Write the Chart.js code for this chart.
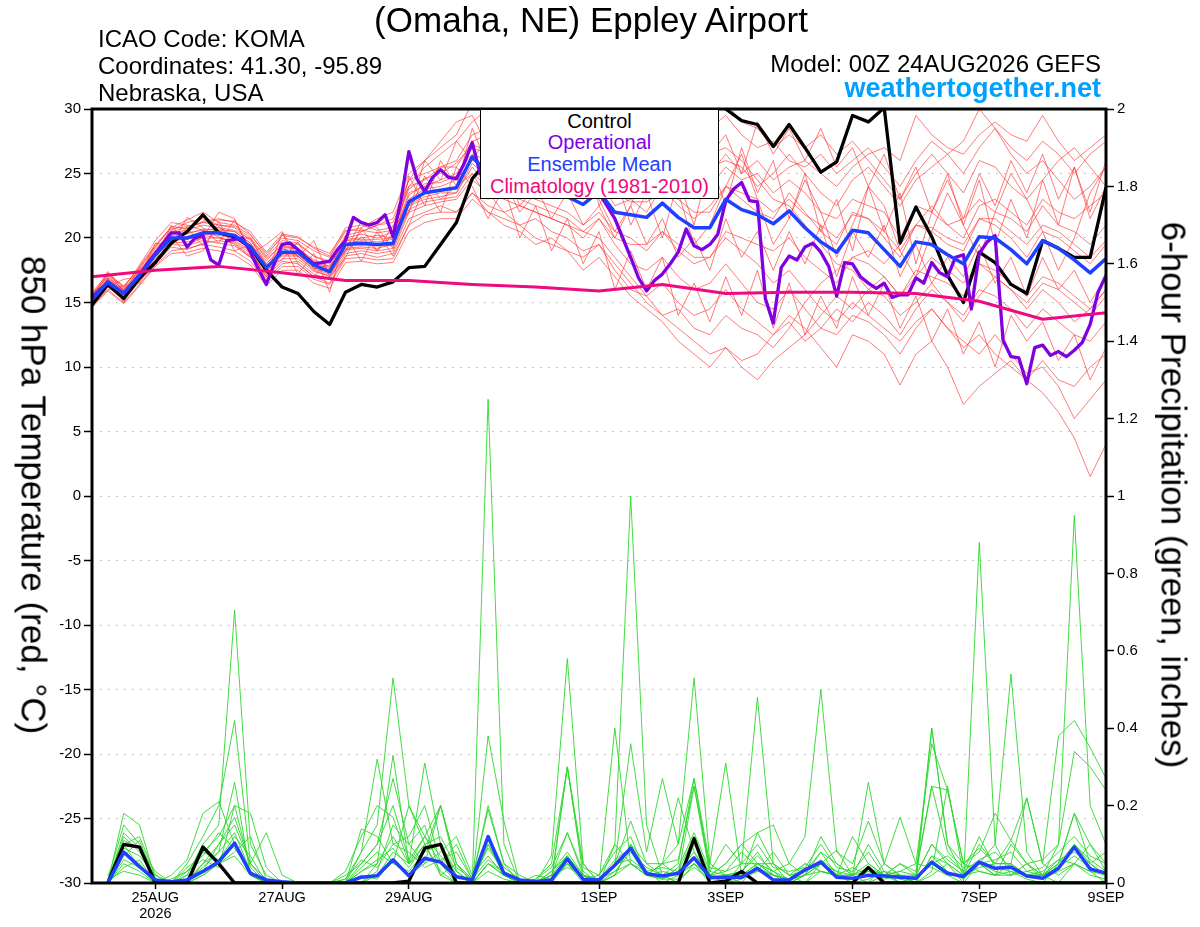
<!DOCTYPE html>
<html><head><meta charset="utf-8">
<script src="https://cdn.jsdelivr.net/npm/chart.js@4.4.1/dist/chart.umd.min.js"></script>
<style>
html,body{margin:0;padding:0;background:#fff;}
#wrap{position:relative;width:1200px;height:927px;overflow:hidden;font-family:"Liberation Sans",Arial,Helvetica,sans-serif;}
#c{position:absolute;left:0;top:0;}
.t{position:absolute;white-space:nowrap;color:#000;line-height:1;}
#legend{position:absolute;left:480px;top:109px;width:239px;height:90px;box-sizing:border-box;border:1.5px solid #000;background:#fff;text-align:center;font-size:20px;line-height:21.7px;padding-top:0.5px;}
.rot{position:absolute;white-space:nowrap;font-size:35px;line-height:1;transform:translate(-50%,-50%) rotate(90deg);}
</style></head>
<body>
<div id="wrap">
<canvas id="c" width="1200" height="927"></canvas>
<div class="t" style="left:0;width:1182px;text-align:center;top:2px;font-size:35px;">(Omaha, NE) Eppley Airport</div>
<div class="t" style="left:98px;top:27px;font-size:24px;">ICAO Code: KOMA</div>
<div class="t" style="left:98px;top:54px;font-size:24px;">Coordinates: 41.30, -95.89</div>
<div class="t" style="left:98px;top:81px;font-size:24px;">Nebraska, USA</div>
<div class="t" style="right:99px;top:52px;font-size:24px;">Model: 00Z 24AUG2026 GEFS</div>
<div class="t" style="right:99px;top:75px;font-size:27px;font-weight:bold;color:#00a0ff;">weathertogether.net</div>
<div class="rot" style="left:34px;top:495px;">850 hPa Temperature (red, °C)</div>
<div class="rot" style="left:1174px;top:495px;">6-hour Precipitation (green, inches)</div>
<div id="legend">
<div style="color:#000">Control</div>
<div style="color:#8000e0">Operational</div>
<div style="color:#2040ff">Ensemble Mean</div>
<div style="color:#ee0a80">Climatology (1981-2010)</div>
</div>
</div>
<script>
// ---- time axis ----
const STEP_ENS = 6;    // hours between ensemble points
const STEP_OPER = 3;   // hours between operational points
const STEP_CLIM = 24;  // hours between climatology points
const tickHours = [24, 72, 120, 192, 240, 288, 336, 384];
const tickLabels = [['25AUG','2026'], '27AUG', '29AUG', '1SEP', '3SEP', '5SEP', '7SEP', '9SEP'];

// ---- 850 hPa temperature (°C) ----
const controlTemp = [14.8,16.4,15.3,16.9,18.1, 19.6,20.5,21.8,20.4,20.1, 19.3,17.5,16.2,15.7,14.3, 13.3,15.8,16.4,16.2,16.6,
 17.7,17.8,19.5,21.2,24.6, 26.0,27.5,28.5,29.5,30.5, 31.0,30.0,29.0,28.0,29.0, 30.0,29.0,28.5,30.0,31.0,
 30.0,29.1,28.8,27.1,28.8, 27.0,25.1,25.9,29.5,29.0, 30.1,19.6,22.4,20.1,17.1, 15.0,18.9,18.1,16.4,15.7, 19.8,19.2,18.5,18.5,23.9];
const meanTemp = [15.2,16.6,15.7,17.1,18.7, 20.0,20.0,20.4,20.4,20.2, 19.3,17.7,18.9,18.9,17.9, 17.4,19.5,19.6,19.5,19.6,
 22.8,23.5,23.7,23.9,26.3, 25.0,24.5,24.5,24.0,23.8, 23.2,22.6,23.6,22.0,21.8, 21.6,22.7,21.6,20.8,20.8,
 23.0,22.2,21.8,21.1,22.1, 20.8,19.7,18.9,20.6,20.4, 19.1,17.8,19.7,19.5,18.7, 18.0,20.1,20.0,19.1,18.0, 19.8,19.2,18.3,17.3,18.4];
const operTemp = [15.4,16.0,16.5,16.1,15.7,16.4,17.1,18.0,18.8,19.6,
 20.4,20.4,19.3,20.0,20.2,18.3,17.9,19.8,19.9,20.0,
 18.9,17.6,16.4,18.0,19.5,19.6,19.1,18.5,18.0,18.1,
 18.2,19.1,19.8,21.6,21.2,21.0,21.2,21.8,20.1,22.9,
 26.7,24.6,23.6,24.7,25.3,24.7,24.6,25.8,27.4,25.0,
 24.5,25.0,26.0,25.5,26.5,27.0,26.0,25.5,26.0,25.0,
 25.5,24.5,25.0,24.0,23.5,22.5,21.5,20.0,18.5,16.9,
 15.9,16.7,17.2,18.0,18.9,20.7,19.4,19.1,19.5,20.3,
 22.9,23.8,24.3,22.9,22.8,15.3,13.4,17.7,18.6,18.3,
 19.3,19.6,18.9,17.8,15.5,18.1,18.0,17.0,16.5,16.1,
 16.5,15.4,15.6,15.6,16.9,16.5,18.1,17.3,17.0,18.5,
 18.7,14.5,18.8,19.7,20.2,12.1,10.8,10.7,8.7,11.5,
 11.7,10.9,11.2,10.8,11.3,11.9,13.3,15.8,17.1];
const climTemp = [17.0,17.5,17.8,17.3,16.7,16.7,16.4,16.2,15.9,16.4,15.7,15.8,15.8,15.7,15.1,13.7,14.2];

// ensemble members, temperature
const tempM01 = [15.6,17.0,16.0,17.4,19.0, 20.6,21.2,21.5,21.0,20.8, 19.8,18.2,19.6,19.5,18.6, 18.0,20.2,20.5,21.0,21.2, 24.0,25.5,26.5,27.5,29.0, 30.0,28.5,29.0,27.5,28.0, 29.5,28.0,29.0,28.5,27.5, 26.5,27.0,28.0,27.0,28.5, 29.5,28.0,27.0,27.5,26.0, 25.5,26.5,25.0,26.0,27.0, 25.5,24.0,26.0,27.5,26.5, 25.0,27.0,28.5,27.0,26.0, 27.5,26.5,25.0,26.5,27.5];
const tempM02 = [14.8,16.3,15.3,16.7,18.3, 19.5,19.4,19.8,19.6,19.4, 18.5,17.0,18.2,18.0,17.0, 16.5,18.6,18.8,18.5,18.8, 21.5,22.0,22.5,22.0,23.5, 22.0,21.0,20.5,19.5,20.0, 19.0,17.5,18.5,17.0,15.5, 14.5,13.5,12.0,11.0,10.0, 11.5,10.5,11.0,12.5,13.5, 12.0,13.0,14.5,13.5,15.0, 14.0,12.5,14.5,16.0,15.0, 13.5,15.5,17.0,16.0,14.5, 16.0,15.0,13.5,14.5,16.0];
const tempM03 = [15.4,16.8,15.9,17.3,19.2, 20.4,20.6,21.0,20.8,20.6, 19.9,18.4,19.4,19.2,18.3, 17.8,19.9,20.0,20.2,20.0, 23.5,24.0,24.5,25.0,26.5, 26.0,25.0,26.5,24.5,25.0, 24.0,23.0,24.5,22.5,23.0, 22.0,24.0,22.5,21.5,22.5, 24.0,23.0,22.0,21.5,23.5, 22.0,20.5,19.5,22.0,21.5, 20.0,18.5,21.0,20.5,19.5, 19.0,21.5,21.0,20.0,18.5, 20.5,20.0,19.0,18.0,19.5];
const tempM04 = [15.1,16.5,15.6,17.8,19.5, 20.8,21.4,22.0,21.2,21.0, 20.2,18.8,20.0,19.8,19.0, 18.5,20.5,20.8,21.5,22.0, 25.0,26.0,27.0,28.0,30.5, 31.0,29.5,30.0,28.0,27.5, 29.0,27.0,30.0,28.0,26.5, 27.5,26.0,28.5,27.5,29.5, 30.5,29.0,28.5,27.0,28.0, 27.0,28.0,26.5,27.5,26.0, 24.5,23.0,25.0,26.5,25.0, 23.5,26.0,25.5,24.0,23.0, 24.5,26.0,27.0,25.5,24.0];
const tempM05 = [15.0,16.4,15.5,16.9,18.6, 19.8,19.9,20.2,20.0,19.8, 19.0,17.4,18.6,18.6,17.6, 17.2,19.2,19.3,19.2,19.5, 22.5,23.0,23.2,23.5,25.5, 24.0,23.0,22.5,22.0,21.5, 21.0,20.0,21.5,19.5,18.0, 17.5,18.5,17.0,16.0,16.5, 18.0,16.5,15.0,14.5,16.0, 14.5,13.0,12.5,14.0,13.5, 12.5,11.0,13.0,14.5,13.0, 11.5,12.5,11.0,10.0,9.0, 8.0,6.5,4.5,1.5,4.0];
const tempM06 = [15.8,17.2,16.3,17.6,19.3, 20.9,20.7,21.3,21.5,21.2, 20.5,18.9,20.3,20.1,19.2, 18.6,20.8,21.0,20.6,20.8, 24.5,25.0,25.5,25.5,27.5, 28.0,27.5,26.0,26.5,25.5, 26.0,25.0,26.0,24.5,24.0, 24.5,25.5,24.0,23.0,24.0, 25.5,24.5,25.0,23.5,24.5, 23.5,22.0,21.5,23.0,22.5, 22.0,20.0,22.5,22.0,21.0, 21.5,23.0,22.0,21.5,20.5, 22.5,21.0,20.5,19.5,21.0];
const tempM07 = [14.9,16.2,15.2,16.6,18.0, 19.3,19.1,19.6,19.8,19.6, 18.6,16.8,18.0,18.2,17.2, 16.8,18.8,19.0,18.8,19.0, 22.0,22.5,22.8,23.0,24.5, 23.5,22.0,21.0,21.5,20.5, 20.0,19.0,19.5,18.0,16.5, 15.0,14.0,14.5,13.0,12.5, 14.0,13.0,12.5,11.5,13.0, 15.0,16.5,17.5,18.5,19.0, 18.0,19.5,21.0,22.5,21.0, 20.0,22.5,23.0,22.0,21.0, 23.0,22.0,21.5,22.5,23.5];
const tempM08 = [15.3,16.7,15.8,17.2,18.9, 20.2,20.3,20.7,20.6,20.5, 19.6,18.0,19.1,19.2,18.1, 17.6,19.6,19.8,19.7,19.9, 23.0,23.8,24.0,24.5,26.0, 25.5,26.0,25.0,25.5,24.5, 25.0,24.0,25.5,24.0,23.5, 23.0,24.5,25.5,24.0,25.0, 26.5,25.0,26.0,24.5,25.5, 26.0,25.0,24.0,25.5,26.5, 27.0,26.0,29.5,28.0,27.0, 26.5,28.0,29.0,28.0,27.5, 29.5,27.5,26.0,27.0,28.0];
const tempM09 = [15.5,17.4,16.1,17.9,19.8, 21.2,21.0,20.6,20.1,19.5, 18.5,17.6,19.2,18.6,17.5, 17.0,19.0,20.5,21.0,21.5, 24.5,26.0,27.5,29.0,29.5, 27.0,24.5,22.0,23.5,26.0, 28.0,26.0,23.0,20.5,22.5, 25.5,27.5,23.5,19.5,21.0, 24.0,26.5,23.0,19.5,21.5, 24.5,22.0,18.5,21.0,24.0, 22.5,19.0,17.0,20.5,23.5, 21.0,18.5,22.0,25.0,23.0, 20.5,17.5,20.0,23.5,25.5];
const tempM10 = [15.0,16.5,15.4,16.8,18.4, 19.6,19.7,20.0,20.0,19.7, 18.8,17.2,18.4,18.4,17.4, 17.1,19.1,19.2,19.0,19.2, 22.2,22.8,23.0,23.2,25.0, 24.0,24.0,23.5,23.0,22.5, 22.0,21.0,22.0,20.5,20.0, 19.0,20.5,19.0,18.0,18.5, 20.0,19.0,18.0,16.5,17.5, 16.0,14.5,13.5,15.0,14.0, 13.0,12.0,13.5,14.5,13.0, 12.0,11.0,12.5,11.0,9.5, 10.0,8.5,6.0,7.5,9.0];
const tempM11 = [14.7,16.0,15.0,16.4,17.9, 19.0,19.2,19.5,19.3,19.0, 18.2,16.6,17.8,17.8,16.8, 16.4,18.4,18.5,18.3,18.4, 21.0,21.8,22.0,22.0,23.5, 22.5,22.0,22.5,22.0,21.5, 21.0,20.5,21.5,20.0,19.5, 19.5,20.5,19.5,18.5,18.5, 20.5,20.0,19.5,19.0,20.0, 18.5,17.5,16.5,18.5,18.0, 17.0,15.5,17.5,17.0,16.5, 15.5,18.0,17.5,16.5,15.5, 17.0,16.5,15.5,14.5,16.0];
const tempM12 = [15.5,16.9,16.0,17.5,19.0, 20.5,20.8,21.2,21.0,20.9, 20.0,18.5,19.8,19.6,18.6, 18.2,20.0,20.3,20.0,20.5, 24.0,24.5,25.5,26.0,28.0, 28.5,27.0,28.0,27.5,26.5, 27.5,26.5,27.5,26.0,25.5, 26.0,27.0,26.5,25.0,26.5, 27.0,26.0,24.5,23.0,22.5, 21.0,19.5,18.0,17.5,16.0, 15.5,14.0,15.0,16.5,15.0, 14.0,16.0,15.5,14.5,13.0, 14.5,13.5,12.5,12.0,13.5];
const tempM13 = [15.2,16.6,15.6,17.0,18.6, 19.9,20.1,20.3,20.2,20.0, 19.1,17.5,18.7,18.7,17.7, 17.3,19.4,19.4,19.4,19.4, 22.6,23.2,23.5,23.5,25.8, 24.5,23.5,23.0,22.5,22.0, 21.5,20.5,20.0,18.5,17.0, 15.5,14.0,13.0,12.0,11.0, 11.5,10.0,9.0,10.5,11.5, 12.5,14.0,15.5,14.5,16.0, 17.0,15.5,17.0,18.5,17.5, 16.5,18.0,17.0,16.0,15.0, 16.5,16.0,15.0,14.0,15.5];
const tempM14 = [15.4,16.8,15.9,17.2,18.9, 20.3,20.4,20.6,20.7,20.5, 19.6,18.0,19.3,19.2,18.2, 17.7,19.8,19.9,19.9,20.0, 23.3,24.2,24.3,24.8,27.0, 26.5,25.5,25.5,25.0,24.5, 24.5,24.0,24.8,23.5,22.8, 22.8,23.5,23.0,22.0,22.0, 24.0,23.5,23.0,22.0,23.0, 21.8,21.0,20.0,21.8,21.5, 20.5,19.0,21.0,20.8,20.0, 19.5,21.5,21.5,20.5,19.5, 21.0,20.5,19.5,18.5,19.8];
const tempM15 = [15.6,17.1,16.2,17.7,19.4, 20.7,20.9,21.2,21.4,21.3, 20.3,18.6,20.2,20.0,19.3, 18.8,20.6,20.6,20.4,20.6, 23.8,24.6,25.0,25.8,27.2, 26.8,26.0,27.5,26.0,25.0, 26.5,25.5,27.0,25.5,24.5, 25.0,26.0,25.0,24.0,25.5, 26.0,25.5,24.0,25.0,26.5, 25.0,23.5,22.5,24.5,25.5, 24.0,22.5,24.5,25.5,26.5, 27.5,30.0,28.5,26.5,25.0, 26.0,24.5,23.0,24.0,25.5];
const tempM16 = [14.6,15.9,14.9,16.3,17.8, 18.8,18.9,19.2,19.0,18.7, 17.9,16.3,17.5,17.5,16.5, 16.1,18.1,18.2,18.0,18.1, 20.5,21.2,21.5,21.5,23.0, 22.0,21.5,21.0,20.0,19.5, 19.0,18.5,19.5,17.5,16.0, 15.5,16.5,15.0,14.0,14.5, 16.0,14.5,13.5,12.5,14.0, 13.0,11.5,10.0,12.5,12.0, 11.0,8.6,11.0,12.0,10.0, 7.1,8.5,9.5,10.5,9.0, 10.5,9.0,8.5,10.0,11.0];
const tempM17 = [15.9,16.2,16.8,17.0,18.2, 21.0,19.5,20.0,22.0,21.5, 18.8,19.5,20.5,18.5,19.8, 17.0,18.5,20.8,19.0,21.0, 22.0,26.0,24.5,27.5,26.0, 28.0,25.5,27.0,23.0,26.5, 24.0,27.5,22.5,25.0,21.0, 23.5,20.0,24.5,21.0,26.0, 22.5,27.0,23.5,26.0,21.5, 25.0,20.5,23.0,19.0,24.0, 20.5,23.5,18.0,22.0,25.0, 21.0,24.5,19.5,23.0,20.0, 24.5,21.0,25.5,22.0,26.0];
const tempM18 = [14.6,16.9,15.0,17.6,18.0, 20.2,18.6,19.0,21.3,19.0, 19.5,16.5,19.6,17.2,18.8, 15.8,20.2,18.2,20.5,18.6, 21.0,24.0,22.0,25.5,24.0, 21.5,24.0,20.0,22.5,19.0, 21.5,18.0,20.5,16.0,19.0, 16.0,18.5,14.0,16.5,13.5, 17.0,14.0,17.5,13.0,16.5, 12.5,15.5,13.0,17.0,14.0, 16.5,13.0,15.5,12.0,14.5, 11.0,13.5,10.0,14.0,12.0, 13.5,10.5,12.5,9.0,11.5];
const tempM19 = [15.2,17.3,15.9,17.0,19.6, 19.4,21.6,20.8,19.6,21.4, 19.0,17.0,20.4,18.0,17.0, 18.3,19.0,21.3,20.8,19.2, 24.8,22.5,26.0,24.0,28.5, 25.5,27.5,24.5,28.5,26.0, 27.0,24.5,28.0,26.5,28.5, 25.5,28.0,26.0,29.0,26.5, 28.0,25.0,29.0,26.5,28.5, 26.0,28.5,25.5,27.0,24.0, 26.5,23.0,25.5,22.0,24.5, 21.5,25.0,22.5,26.0,23.5, 26.5,23.0,25.5,21.5,24.0];
const tempM20 = [15.0,16.0,16.3,16.5,19.0, 19.8,20.8,19.4,20.9,19.9, 20.0,17.9,18.3,19.7,17.6, 17.9,18.9,20.1,19.0,20.3, 22.0,24.8,23.0,24.0,25.0, 23.0,25.5,22.5,24.0,21.5, 23.5,21.0,22.5,20.0,22.5, 19.5,21.5,18.5,20.0,17.5, 21.5,18.5,20.5,17.5,20.5, 18.0,21.0,17.0,20.5,18.5, 21.0,17.0,19.5,16.5,18.5, 17.0,19.5,16.5,18.5,15.5, 18.5,16.0,17.5,15.0,17.0];

// ---- 6-hour precipitation (inches) ----
const controlPrecip = [null,0,0.10,0.093,0, 0,0,0.093,0.05,0, 0,0,0,0,0, 0,0,0,0,0, 0.005,0.09,0.10,0,0, 0,0,0,0,0, 0,0,0,0,0, 0,0,0,0.115,0, 0.005,0.03,0,0,0, 0,0,0,0,0.04, 0,0,0,0,0, 0,0,0,0,0, 0,0,0,0,0];
const meanPrecip = [null,0,0.08,0.042,0.008, 0.003,0.008,0.03,0.055,0.103, 0.025,0.008,0.003,0,0, 0,0,0.015,0.019,0.06, 0.019,0.064,0.054,0.016,0.008, 0.12,0.025,0.008,0.004,0.008, 0.062,0.01,0.008,0.046,0.09, 0.024,0.018,0.025,0.065,0.015, 0.015,0.015,0.038,0.008,0.008, 0.034,0.054,0.015,0.012,0.02, 0.018,0.015,0.012,0.054,0.025, 0.017,0.054,0.038,0.041,0.018, 0.012,0.038,0.093,0.036,0.026];
const precipM01 = [null,0,0.08,0.05,0, 0,0,0.02,0.05,0.1, 0.02,0,0,0,0, 0,0,0.03,0.05,0.12, 0.05,0.08,0.1,0.03,0, 1.25,0.1,0,0,0.02, 0.05,0,0,0.02,0.1, 0.03,0,0.02,0.05,0, 0,0.02,0.05,0.02,0, 0,0.03,0.02,0,0.01, 0.03,0,0,0.02,0.05, 0.02,0.05,0.02,0.03,0.01, 0,0.05,0.1,0.05,0.02];
const precipM02 = [null,0,0.12,0.08,0.01, 0,0.02,0.1,0.15,0.705, 0.1,0.02,0,0,0, 0,0,0,0.02,0.08, 0.05,0.1,0.02,0,0, 0.05,0.02,0,0,0.03, 0.08,0.02,0,0.1,1.0, 0.15,0.02,0,0.05,0.02, 0,0.01,0.03,0.08,0.02, 0,0.05,0.03,0,0, 0.02,0,0.01,0.05,0.02, 0,0.88,0.1,0.02,0.05, 0.02,0,0.05,0.03,0];
const precipM03 = [null,0.01,0.15,0.1,0, 0,0.05,0.12,0.2,0.42, 0.05,0,0,0,0, 0,0,0.08,0.15,0.53, 0.2,0.1,0.03,0,0, 0.1,0.02,0,0.01,0.05, 0.3,0.05,0,0.02,0.1, 0.05,0.05,0.1,0.53,0.05, 0.02,0,0.05,0.03,0, 0.02,0.08,0.05,0.02,0.1, 0.03,0,0.02,0.1,0.05, 0,0.05,0.1,0.54,0.08, 0.02,0.05,0.18,0.1,0.05];
const precipM04 = [null,0,0.1,0.12,0.02, 0,0,0.05,0.08,0.26, 0.02,0,0,0,0, 0,0,0,0.05,0.33, 0.05,0.31,0.1,0.02,0, 0.05,0.03,0,0,0.07, 0.58,0.05,0,0.05,0.16, 0.05,0.02,0,0.1,0.02, 0,0.05,0.48,0.05,0, 0.02,0.12,0.05,0.02,0, 0.05,0.02,0,0.07,0.05, 0.02,0.05,0.02,0.1,0.05, 0.06,0.1,0.95,0.2,0.1];
const precipM05 = [null,0,0.06,0.04,0, 0.01,0.03,0.08,0.12,0.2, 0.18,0.04,0,0,0, 0,0.02,0.05,0.1,0.27, 0.1,0.05,0.2,0.05,0.01, 0.2,0.05,0.02,0,0.02, 0.13,0.02,0,0.4,0.05, 0.02,0.05,0.22,0.08,0.02, 0.05,0.1,0.05,0.03,0.05, 0.12,0.5,0.08,0.05,0.16, 0.05,0.02,0.02,0.4,0.1, 0.02,0.1,0.05,0.05,0.22, 0.05,0.02,0.05,0.03,0.02];
const precipM06 = [null,0,0.18,0.15,0.01, 0,0.02,0.03,0.1,0.15, 0.05,0.13,0.02,0,0, 0,0,0.14,0.12,0.05, 0.2,0.12,0.05,0,0, 0.38,0.16,0,0,0, 0.3,0.02,0,0.05,0.36, 0.08,0.27,0.1,0.27,0.05, 0.31,0.02,0.13,0.05,0.02, 0.03,0.05,0.085,0.02,0.26, 0.05,0.17,0.05,0.36,0.24, 0.05,0.08,0.18,0.11,0.22, 0.05,0.38,0.42,0.35,0.27];
const precipM07 = [null,0,0.05,0.03,0, 0.02,0.06,0.18,0.21,0.1, 0.03,0,0,0,0, 0,0.01,0.08,0.32,0.1, 0.12,0.2,0.05,0.1,0.01, 0.19,0.05,0,0.02,0.01, 0.05,0.02,0.01,0.03,0.08, 0.02,0.05,0.02,0.25,0.02, 0.05,0.1,0.13,0.15,0.05, 0.02,0.05,0.02,0.12,0.05, 0.02,0.05,0.02,0.25,0.24, 0.05,0.09,0.05,0.11,0.05, 0.02,0.05,0.18,0.05,0.08];
const precipM08 = [null,0.01,0.03,0.02,0, 0,0,0.02,0.05,0.07, 0.02,0,0,0,0, 0,0,0.02,0.01,0.06, 0.02,0.05,0.08,0.12,0.02, 0.07,0.02,0,0,0.01, 0.07,0.01,0.02,0.1,0.05, 0.02,0.03,0.02,0.05,0.01, 0.02,0.02,0.05,0.02,0.01, 0.02,0.05,0.02,0.01,0.03, 0.02,0.01,0,0.07,0.03, 0.01,0.05,0.03,0.02,0.05, 0.01,0.03,0.05,0.02,0.01];
const precipM09 = [null,0,0.09,0.07,0.02, 0,0.01,0.05,0.1,0.17, 0.05,0.01,0,0,0, 0,0.03,0.12,0.2,0.17, 0.05,0.12,0.07,0.02,0, 0.12,0.04,0.01,0,0.03, 0.07,0.01,0.01,0.05,0.08, 0.04,0.02,0.05,0.27,0.03, 0.1,0.05,0.05,0.05,0.02, 0.05,0.03,0.02,0.02,0.05, 0.02,0.03,0.05,0.04,0.02, 0.02,0.04,0.05,0.05,0.02, 0.02,0.04,0.07,0.04,0.02];
const precipM10 = [null,0,0.07,0.11,0.01, 0,0,0.08,0.06,0.12, 0.07,0,0,0,0, 0,0,0,0.03,0.15, 0.1,0.15,0.02,0.05,0, 0.05,0.02,0,0.01,0.04, 0.13,0.03,0,0.05,0.06, 0.03,0.01,0.03,0.08,0.01, 0.02,0.03,0.08,0.02,0.01, 0.03,0.08,0.02,0.02,0.03, 0.01,0.02,0,0.4,0.1, 0.05,0.03,0.02,0.02,0.03, 0.02,0.06,0.05,0.1,0.03];
const precipM11 = [null,0,0.04,0.06,0, 0,0.01,0.03,0.05,0.08, 0.12,0.01,0,0,0, 0,0,0.04,0.08,0.05, 0.03,0.08,0.2,0.03,0, 0.03,0.01,0,0,0.02, 0.04,0.02,0,0.03,0.05, 0.02,0.01,0.01,0.04,0.01, 0.01,0.02,0.03,0.02,0.01, 0.02,0.03,0.02,0.01,0.02, 0.03,0.02,0,0.03,0.25, 0.02,0.03,0.02,0.05,0.02, 0.02,0.1,0.34,0.3,0.24];
const precipM12 = [null,0,0.11,0.09,0.03, 0,0.04,0.07,0.13,0.09, 0.03,0,0,0,0, 0,0,0.05,0.1,0.2, 0.06,0.12,0.2,0.05,0, 0.1,0.03,0,0,0.01, 0.3,0.04,0.02,0.08,0.12, 0.02,0.05,0.06,0.25,0.04, 0.03,0.05,0.1,0.04,0.03, 0.04,0.1,0.04,0.03,0.08, 0.02,0.05,0.03,0.25,0.08, 0.04,0.05,0.06,0.08,0.03, 0.04,0.08,0.12,0.07,0.05];
const precipM13 = [null,0.02,0.1,0.04,0, 0,0.01,0.04,0.08,0.13, 0.03,0,0,0,0, 0,0.01,0.06,0.04,0.1, 0.08,0.04,0.06,0.08,0.01, 0.06,0.03,0.01,0,0, 0.05,0.01,0,0.02,0.05, 0.03,0.04,0.03,0.12,0.02, 0.03,0.08,0.04,0.02,0.01, 0.05,0.03,0.02,0.04,0.02, 0.02,0.02,0.01,0.05,0.07, 0.03,0.06,0.08,0.04,0.02, 0.03,0.06,0.08,0.05,0.02];
const precipM14 = [null,0,0.13,0.09,0.01, 0,0.03,0.06,0.04,0.2, 0.04,0,0,0,0, 0,0,0.03,0.06,0.09, 0.04,0.1,0.12,0.04,0.01, 0.09,0.03,0,0,0.02, 0.07,0.02,0.01,0.06,0.09, 0.02,0.01,0.04,0.13,0.03, 0.02,0.03,0.07,0.03,0.01, 0.03,0.06,0.03,0.02,0.04, 0.02,0.03,0.02,0.1,0.06, 0.03,0.12,0.04,0.03,0.02, 0.02,0.04,0.1,0.06,0.03];

const tempMembers = [tempM01,tempM02,tempM03,tempM04,tempM05,tempM06,tempM07,tempM08,tempM09,tempM10,tempM11,tempM12,tempM13,tempM14,tempM15,tempM16,tempM17,tempM18,tempM19,tempM20];
const precipMembers = [precipM01,precipM02,precipM03,precipM04,precipM05,precipM06,precipM07,precipM08,precipM09,precipM10,precipM11,precipM12,precipM13,precipM14];

// ---- build chart ----
const FONT = "'Liberation Sans', Arial, Helvetica, sans-serif";
Chart.defaults.font.family = FONT;
Chart.defaults.color = '#000';

function pts(arr, step) {
  const out = [];
  arr.forEach((v, i) => { if (v !== null && v !== undefined) out.push({x: i * step, y: v}); });
  return out;
}
function line(data, axis, color, width, order) {
  return {data, yAxisID: axis, borderColor: color, borderWidth: width, pointRadius: 0,
          fill: false, tension: 0, order, borderJoinStyle: 'round', borderCapStyle: 'round'};
}

const datasets = [];
datasets.push(line(pts(climTemp, STEP_CLIM), 'y', '#ee0a80', 3, 1));
datasets.push(line(pts(meanTemp, STEP_ENS), 'y', '#2040ff', 3.5, 2));
datasets.push(line(pts(operTemp, STEP_OPER), 'y', '#8000e0', 3.3, 3));
datasets.push(line(pts(controlTemp, STEP_ENS), 'y', '#000000', 3.3, 4));
datasets.push(line(pts(meanPrecip, STEP_ENS), 'y2', '#2040ff', 3.5, 5));
datasets.push(line(pts(controlPrecip, STEP_ENS), 'y2', '#000000', 3.3, 6));
tempMembers.forEach(m => datasets.push(line(pts(m, STEP_ENS), 'y', 'rgba(255,45,45,0.7)', 0.9, 10)));
precipMembers.forEach(m => datasets.push(line(pts(m, STEP_ENS), 'y2', 'rgb(45,215,45)', 0.9, 11)));

const framePlugin = {
  id: 'frame',
  afterDatasetsDraw(chart) {
    const {ctx, chartArea: a} = chart;
    ctx.save();
    ctx.strokeStyle = '#000';
    ctx.lineWidth = 3;
    ctx.strokeRect(a.left, a.top, a.right - a.left, a.bottom - a.top);
    ctx.restore();
  }
};

new Chart(document.getElementById('c'), {
  type: 'line',
  data: {datasets},
  plugins: [framePlugin],
  options: {
    responsive: false,
    animation: false,
    devicePixelRatio: 1,
    layout: {padding: {top: 109, left: 0, right: 0, bottom: 0}},
    plugins: {legend: {display: false}, tooltip: {enabled: false}, title: {display: false}},
    scales: {
      x: {
        type: 'linear', position: 'bottom', min: 0, max: 384,
        afterBuildTicks(s) { s.ticks = tickHours.map(v => ({value: v})); },
        afterFit(s) { s.height = 44; },
        ticks: {
          autoSkip: false, maxRotation: 0, minRotation: 0, padding: 1,
          font: {size: 14.5, lineHeight: 1.1},
          callback(v) { const k = tickHours.indexOf(v); return k >= 0 ? tickLabels[k] : ''; }
        },
        grid: {drawOnChartArea: false, drawTicks: true, tickLength: 6, tickColor: '#000', tickWidth: 1.5},
        border: {display: false}
      },
      y: {
        position: 'left', min: -30, max: 30,
        afterFit(s) { s.width = 92; },
        ticks: {stepSize: 5, padding: 3, font: {size: 15}},
        grid: {color: 'rgba(150,150,150,0.75)', lineWidth: 1, drawTicks: true, tickLength: 8, tickColor: '#000', tickWidth: 1.5},
        border: {display: false, dash: [1.5, 6.5]}
      },
      y2: {
        position: 'right', min: 0, max: 2,
        afterFit(s) { s.width = 94; },
        ticks: {stepSize: 0.2, padding: 3, font: {size: 15},
                callback(v) { return String(Math.round(v * 10) / 10); }},
        grid: {drawOnChartArea: false, drawTicks: true, tickLength: 8, tickColor: '#000', tickWidth: 1.5},
        border: {display: false}
      }
    }
  }
});
</script>
</body></html>
